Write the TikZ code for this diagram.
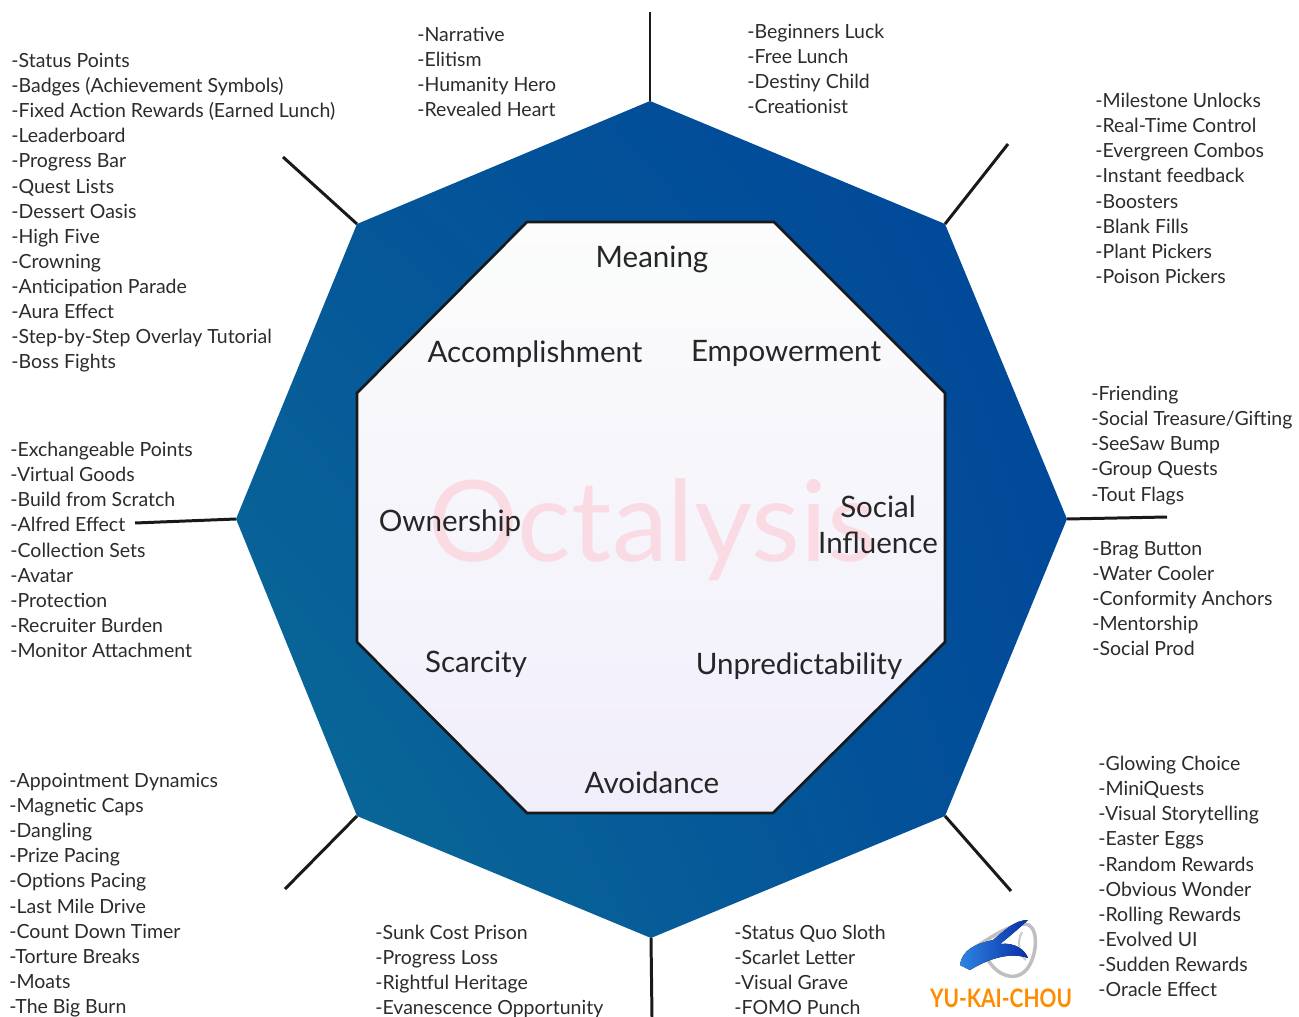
\documentclass[tikz,border=0pt]{standalone}
\usepackage{fontspec}
\setmainfont{Lato}
\usetikzlibrary{shadings}
\definecolor{octblue}{HTML}{00469A}
\definecolor{octteal}{HTML}{0B6E96}
\definecolor{octpink}{HTML}{FADBE4}
\definecolor{listgray}{HTML}{2B2B2B}
\definecolor{innertop}{HTML}{FBFCFB}
\definecolor{innerbottom}{HTML}{F1EEFB}
\definecolor{logolight}{HTML}{2C84E2}
\definecolor{logodark}{HTML}{0A2FA8}
\tikzset{
  listtext/.style={anchor=north west,inner sep=0pt,align=left,text=listgray,font=\fontsize{11.1}{14.28}\selectfont},
  corelabel/.style={inner sep=0pt,align=center,text=black!85,font=\fontsize{16.8}{20.5}\selectfont},
  spoke/.style={line width=1.7pt,color=black!90},
}
\begin{document}
\begin{tikzpicture}[x=0.02cm,y=-0.02cm]
    \useasboundingbox (0,0) rectangle (1299,1017);

    \coordinate (o1) at (650,101);
    \coordinate (o2) at (945,224);
    \coordinate (o3) at (1067,519);
    \coordinate (o4) at (945,816);
    \coordinate (o5) at (651,938);
    \coordinate (o6) at (357,816);
    \coordinate (o7) at (236,519);
    \coordinate (o8) at (357,224);

    \coordinate (s1) at (650,12);
    \coordinate (s2) at (1008,144);
    \coordinate (s3) at (1167,517);
    \coordinate (s4) at (1011,891);
    \coordinate (s5) at (652,1017);
    \coordinate (s6) at (285,889);
    \coordinate (s7) at (135,523);
    \coordinate (s8) at (283,157);

    % outer octagon
    \shade[lower left=octteal,lower right=octblue!85!octteal,upper left=octteal!40!octblue,upper right=octblue]
      (o1) -- (o2) -- (o3) -- (o4) -- (o5) -- (o6) -- (o7) -- (o8) -- cycle;
    \foreach \i in {1,...,8}
      \draw[spoke] (o\i) -- (s\i);

    % inner octagon
    \draw[line width=1.5pt,color=black!90,top color=innertop,bottom color=innerbottom]
      (527,222) -- (774,222) -- (945,393) -- (945,642) -- (773,813) -- (527,813) -- (357,642) -- (357,393) -- cycle;

    \node[inner sep=0pt,text=octpink,font=\fontsize{64}{64}\selectfont] (title) at (652,530) {Octalysis};

    \node[corelabel] (meaning) at (652,259) {Meaning};
    \node[corelabel] (accomplishment) at (535,354) {Accomplishment};
    \node[corelabel] (empowerment) at (786,353) {Empowerment};
    \node[corelabel] (ownership) at (450,523) {Ownership};
    \node[corelabel] (social) at (878,525) {Social\\Influence};
    \node[corelabel] (scarcity) at (476,664) {Scarcity};
    \node[corelabel] (unpredictability) at (799,666) {Unpredictability};
    \node[corelabel] (avoidance) at (652,783) {Avoidance};

    \node[listtext] (topleft) at (417,27) {-Narrative\\-Elitism\\-Humanity Hero\\-Revealed Heart};
    \node[listtext] (topright) at (747,24) {-Beginners Luck\\-Free Lunch\\-Destiny Child\\-Creationist};
    \node[listtext] (accomplishlist) at (11,53) {-Status Points\\-Badges (Achievement Symbols)\\-Fixed Action Rewards (Earned Lunch)\\-Leaderboard\\-Progress Bar\\-Quest Lists\\-Dessert Oasis\\-High Five\\-Crowning\\-Anticipation Parade\\-Aura Effect\\-Step-by-Step Overlay Tutorial\\-Boss Fights};
    \node[listtext] (empowerlist) at (1095,93) {-Milestone Unlocks\\-Real-Time Control\\-Evergreen Combos\\-Instant feedback\\-Boosters\\-Blank Fills\\-Plant Pickers\\-Poison Pickers};
    \node[listtext] (ownerlist) at (10,442) {-Exchangeable Points\\-Virtual Goods\\-Build from Scratch\\-Alfred Effect\\-Collection Sets\\-Avatar\\-Protection\\-Recruiter Burden\\-Monitor Attachment};
    \node[listtext] (sociallist) at (1091,386) {-Friending\\-Social Treasure/Gifting\\-SeeSaw Bump\\-Group Quests\\-Tout Flags};
    \node[listtext] (sociallisttwo) at (1092,541) {-Brag Button\\-Water Cooler\\-Conformity Anchors\\-Mentorship\\-Social Prod};
    \node[listtext] (scarcitylist) at (9,773) {-Appointment Dynamics\\-Magnetic Caps\\-Dangling\\-Prize Pacing\\-Options Pacing\\-Last Mile Drive\\-Count Down Timer\\-Torture Breaks\\-Moats\\-The Big Burn};
    \node[listtext] (avoidleft) at (375,925) {-Sunk Cost Prison\\-Progress Loss\\-Rightful Heritage\\-Evanescence Opportunity};
    \node[listtext] (avoidright) at (734,925) {-Status Quo Sloth\\-Scarlet Letter\\-Visual Grave\\-FOMO Punch};
    \node[listtext] (unpredictlist) at (1098,756) {-Glowing Choice\\-MiniQuests\\-Visual Storytelling\\-Easter Eggs\\-Random Rewards\\-Obvious Wonder\\-Rolling Rewards\\-Evolved UI\\-Sudden Rewards\\-Oracle Effect};

    % logo
    \draw[line width=2pt,color=gray!50] (968,952) .. controls (995,934) and (1018,920) .. (1029,925) .. controls (1040,932) and (1036,962) .. (1024,972) .. controls (1014,981) and (998,976) .. (988,960);
    \draw[line width=1.2pt,color=gray!40] (1022,932) .. controls (1016,942) and (1020,956) .. (1026,960);
    \fill[left color=logolight,right color=logodark]
      (960,965) .. controls (962,950) and (975,944) .. (993,940) .. controls (1005,930) and (1015,920) .. (1028,920)
      .. controls (1015,932) and (1005,940) .. (1000,944) .. controls (1015,942) and (1025,950) .. (1028,958)
      .. controls (1010,952) and (990,958) .. (970,970) -- cycle;
    \node[inner sep=0pt,text=orange!90!yellow,font=\fontsize{14.5}{15}\bfseries\selectfont,xscale=0.82] (logotext) at (1001,998) {YU-KAI-CHOU};
\end{tikzpicture}
\end{document}
